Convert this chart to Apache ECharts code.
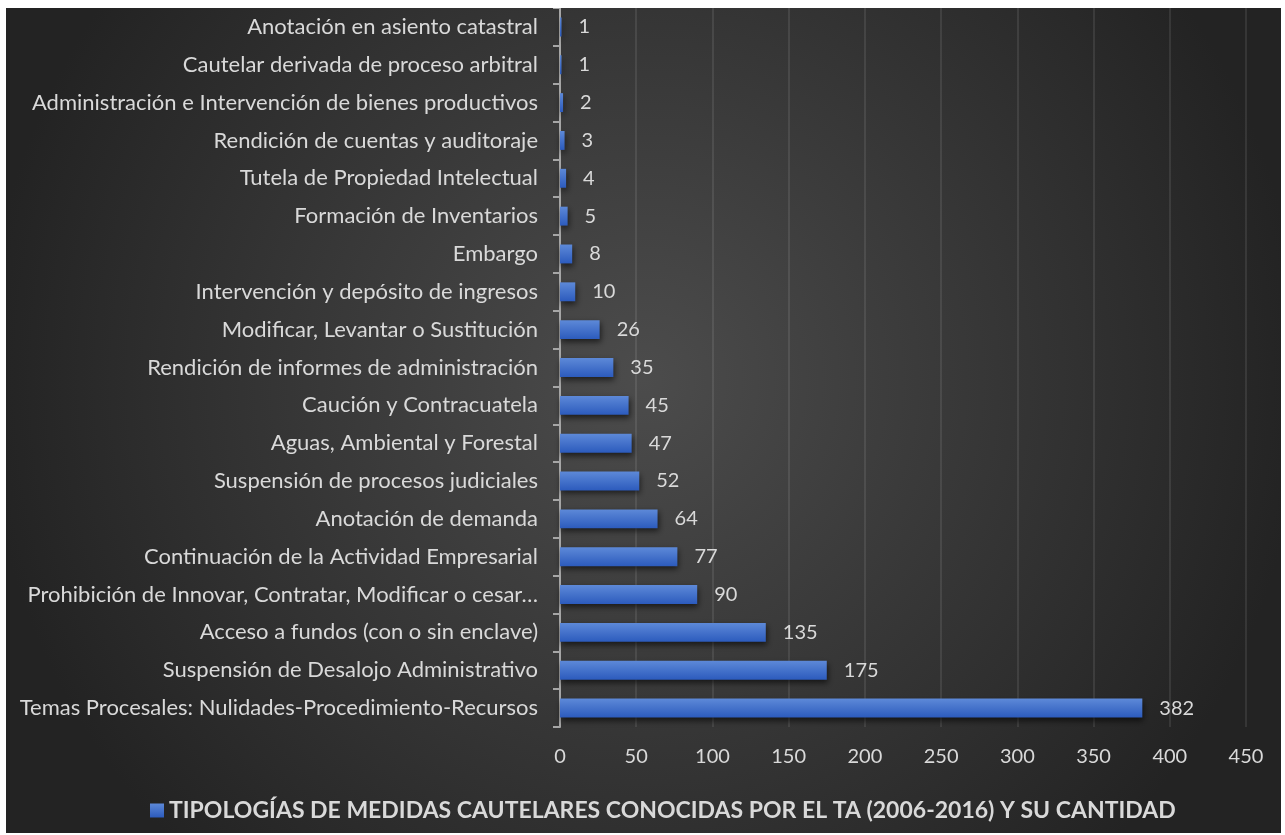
<!DOCTYPE html>
<html>
<head>
<meta charset="utf-8">
<script src="https://cdn.jsdelivr.net/npm/echarts@6/dist/echarts.min.js"></script>
<style>
  html, body { margin: 0; padding: 0; background: #ffffff; width: 1285px; height: 835px; overflow: hidden; }
  #chart { position: absolute; left: 6px; top: 8px; width: 1275px; height: 825px; }
</style>
</head>
<body>
<div id="chart"></div>
<script>
// Measure types, listed top to bottom
const categories = [
  'Anotación en asiento catastral',
  'Cautelar derivada de proceso arbitral',
  'Administración e Intervención de bienes productivos',
  'Rendición de cuentas y auditoraje',
  'Tutela de Propiedad Intelectual',
  'Formación de Inventarios',
  'Embargo',
  'Intervención y depósito de ingresos',
  'Modificar, Levantar o Sustitución',
  'Rendición de informes de administración',
  'Caución y Contracuatela',
  'Aguas, Ambiental y Forestal',
  'Suspensión de procesos judiciales',
  'Anotación de demanda',
  'Continuación de la Actividad Empresarial',
  'Prohibición de Innovar, Contratar, Modificar o cesar…',
  'Acceso a fundos (con o sin enclave)',
  'Suspensión de Desalojo Administrativo',
  'Temas Procesales: Nulidades-Procedimiento-Recursos'
];
const counts = [1, 1, 2, 3, 4, 5, 8, 10, 26, 35, 45, 47, 52, 64, 77, 90, 135, 175, 382];
const seriesName = 'TIPOLOGÍAS DE MEDIDAS CAUTELARES CONOCIDAS POR EL TA (2006-2016) Y SU CANTIDAD';

const FONT = 'Lato, "Open Sans", sans-serif';
const TEXT = '#d9d9d9';

const chart = echarts.init(document.getElementById('chart'));
chart.setOption({
  backgroundColor: {
    type: 'radial', x: 0.5, y: 0.45, r: 0.8,
    colorStops: [
      { offset: 0, color: '#4c4c4c' },
      { offset: 1, color: '#232323' }
    ]
  },
  textStyle: { fontFamily: FONT },
  grid: { left: 554, right: 35, top: 0, bottom: 106, containLabel: false },
  legend: {
    bottom: 6,
    left: 139,
    itemWidth: 14,
    itemHeight: 14,
    itemGap: 10,
    icon: 'rect',
    textStyle: { color: TEXT, fontSize: 23, fontWeight: 'bold', fontFamily: FONT },
    data: [seriesName]
  },
  xAxis: {
    type: 'value',
    min: 0, max: 450, interval: 50,
    axisLine: { show: false },
    axisTick: { show: false },
    splitLine: { lineStyle: { color: 'rgba(255,255,255,0.12)', width: 1.5 } },
    axisLabel: { color: TEXT, fontSize: 20, margin: 20, fontFamily: FONT }
  },
  yAxis: {
    type: 'category',
    inverse: true,
    data: categories,
    axisLine: { lineStyle: { color: '#a6a6a6', width: 2 } },
    axisTick: { show: true, length: 7, lineStyle: { color: '#a6a6a6', width: 2 } },
    axisLabel: { color: TEXT, fontSize: 22, margin: 22, fontFamily: FONT }
  },
  series: [{
    name: seriesName,
    type: 'bar',
    data: counts,
    barWidth: '50%',
    itemStyle: {
      color: {
        type: 'linear', x: 0, y: 0, x2: 0, y2: 1,
        colorStops: [
          { offset: 0, color: '#5d89d8' },
          { offset: 1, color: '#2c5bbd' }
        ]
      },
      shadowColor: 'rgba(0,0,0,0.6)',
      shadowBlur: 6,
      shadowOffsetY: 3,
      shadowOffsetX: 1
    },
    label: {
      show: true,
      position: 'right',
      distance: 17,
      color: TEXT,
      fontSize: 20,
      fontFamily: FONT
    }
  }]
});
</script>
</body>
</html>
